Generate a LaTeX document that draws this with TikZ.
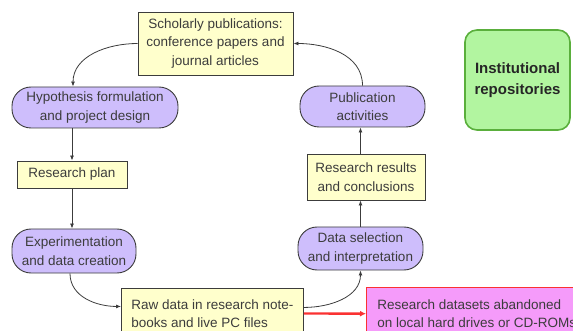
\documentclass[tikz,border=0pt]{standalone}
\usepackage{fontspec}
\setmainfont{Liberation Sans}
\usetikzlibrary{arrows.meta}
\definecolor{notefill}{RGB}{255,255,204}
\definecolor{stepfill}{RGB}{206,190,252}
\definecolor{repofill}{RGB}{178,245,160}
\definecolor{repoline}{RGB}{90,175,60}
\definecolor{lostfill}{RGB}{245,155,250}
\definecolor{lostline}{RGB}{250,50,50}
\definecolor{ink}{RGB}{60,60,60}

\begin{document}
\begin{tikzpicture}[x=1pt, y=-1pt,
  every node/.style={font=\fontsize{13.5}{18.5}\selectfont, text=ink},
  note/.style={draw=ink, fill=notefill, line width=0.9pt, align=center,
    inner sep=3pt},
  act/.style={draw=ink, fill=stepfill, line width=0.9pt, align=center,
    rounded corners=19pt, inner sep=3pt},
  repo/.style={draw=repoline, fill=repofill, line width=1.6pt, align=center,
    rounded corners=12pt, font=\fontsize{15}{21}\selectfont\bfseries,
    text=black!85},
  lost/.style={draw=lostline, fill=lostfill, line width=1.4pt, align=left,
    inner sep=8pt},
  arr/.style={-{Latex[length=5pt,width=4pt]}, ink, line width=0.8pt},
  redarr/.style={-{Latex[length=6pt,width=6pt]}, lostline, line width=2.4pt}
]
\useasboundingbox (0,0) rectangle (573,331);
\clip (0,0) rectangle (573,331);
\node[note, minimum width=155pt, minimum height=63pt] (scholarly) at (215.5,43.5)
  {Scholarly publications:\\ conference papers and\\ journal articles};
\node[act, minimum width=166pt, minimum height=41pt] (hypo) at (95,107.5)
  {Hypothesis formulation\\ and project design};
\node[act, minimum width=125pt, minimum height=41pt] (pubact) at (362.5,106.5)
  {Publication\\ activities};
\node[repo, minimum width=105pt, minimum height=100pt] (repos) at (517.5,80)
  {Institutional\\ repositories};
\node[note, minimum width=110pt, minimum height=27pt] (plan) at (72,174.5)
  {Research plan};
\node[act, minimum width=124pt, minimum height=44pt] (expt) at (74,251)
  {Experimentation\\ and data creation};
\node[note, minimum width=118pt, minimum height=46pt] (results) at (366,177)
  {Research results\\ and conclusions};
\node[act, minimum width=125pt, minimum height=43pt] (select) at (360.5,248.5)
  {Data selection\\ and interpretation};
\node[note, anchor=north west, align=left, inner sep=6pt,
  minimum width=182pt, minimum height=50pt] (rawdata) at (121,288)
  {Raw data in research note-\\ books and live PC files};
\node[lost, anchor=north west, minimum width=220pt, minimum height=52pt]
  (abandon) at (366,287)
  {Research datasets abandoned\\ on local hard drives or CD-ROMs};
\draw[arr] (scholarly.west) to[out=180, in=90] ([xshift=-22pt]hypo.north);
\draw[arr] (pubact.north) to[out=90, in=0] (scholarly.east);
\draw[arr] (plan.north |- hypo.south) -- (plan.north);
\draw[arr] (plan.south) -- (plan.south |- expt.north);
\draw[arr] ([xshift=-4pt]expt.south) to[out=-90, in=180]
  ([yshift=7pt]rawdata.west);
\draw[arr] ([yshift=6pt]rawdata.east) to[out=0, in=-90] (select.south);
\draw[arr] (select.north) -- (select.north |- results.south);
\draw[arr] (results.north -| select.north) -- (select.north |- pubact.south);
\draw[redarr] (rawdata.east) -- (abandon.west);
\end{tikzpicture}
\end{document}
